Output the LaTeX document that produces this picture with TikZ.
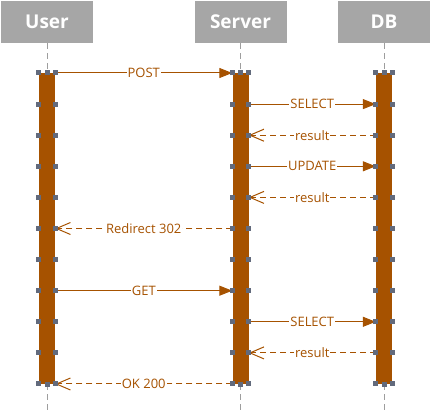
\documentclass[tikz,border=0pt]{standalone}
\usepackage{fontspec}
\setmainfont{Open Sans}
\usetikzlibrary{arrows.meta}
\definecolor{bar}{HTML}{A65200}
\definecolor{hdr}{HTML}{A6A6A6}
\definecolor{hdl}{HTML}{626A7C}
\definecolor{life}{HTML}{9E9E9E}
\tikzset{
  header/.style={fill=hdr, minimum width=92pt, minimum height=42pt, inner sep=0pt,
    text=white, font=\fontsize{19}{20}\selectfont\bfseries},
  actbar/.style={fill=bar, minimum width=16pt, minimum height=311pt, inner sep=0pt},
  lifeline/.style={draw=life, line width=1pt, dash pattern=on 6pt off 4pt},
  call/.style={color=bar, line width=1pt, -{Triangle[length=13pt,width=10pt]}},
  reply/.style={color=bar, line width=1pt, dash pattern=on 6pt off 4pt,
    -{Straight Barb[length=14pt,width=12pt]}},
  msg/.style={fill=white, text=bar, inner sep=1pt, font=\fontsize{13}{14}\selectfont},
  handle/.style={fill=hdl, minimum size=5pt, inner sep=0pt}
}
\begin{document}
\begin{tikzpicture}[x=1pt,y=-1pt]
\useasboundingbox (0,0) rectangle (431,411);
% headers
\node[header] (uh) at (47,22) {User};
\node[header] (sh) at (240.5,22) {Server};
\node[header] (dh) at (384,22) {DB};
% activation bars
\node[actbar] (ub) at (47,228.5) {};
\node[actbar] (sb) at (240.5,228.5) {};
\node[actbar] (db) at (384,228.5) {};
% lifeline ends
\coordinate (ue) at (47,411);
\coordinate (se) at (240.5,411);
\coordinate (de) at (384,411);
\draw[lifeline] (uh.south) -- (ub.north);
\draw[lifeline] (sh.south) -- (sb.north);
\draw[lifeline] (dh.south) -- (db.north);
\draw[lifeline] (ub.south) -- (ue);
\draw[lifeline] (sb.south) -- (se);
\draw[lifeline] (db.south) -- (de);
% rows
\foreach \k in {0,...,10} {\coordinate (r\k) at (0,73+31.1*\k);}
% messages
\draw[call] (ub.east |- r0) -- node[msg] (m0) {POST} (sb.west |- r0);
\draw[call] (sb.east |- r1) -- node[msg] (m1) {SELECT} (db.west |- r1);
\draw[reply] (db.west |- r2) -- node[msg] (m2) {result} (sb.east |- r2);
\draw[call] (sb.east |- r3) -- node[msg] (m3) {UPDATE} (db.west |- r3);
\draw[reply] (db.west |- r4) -- node[msg] (m4) {result} (sb.east |- r4);
\draw[reply] (sb.west |- r5) -- node[msg] (m5) {Redirect 302} (ub.east |- r5);
\draw[call] (ub.east |- r7) -- node[msg] (m7) {GET} (sb.west |- r7);
\draw[call] (sb.east |- r8) -- node[msg] (m8) {SELECT} (db.west |- r8);
\draw[reply] (db.west |- r9) -- node[msg] (m9) {result} (sb.east |- r9);
\draw[reply] (sb.west |- r10) -- node[msg] (m10) {OK 200} (ub.east |- r10);
% handles
\foreach \b in {ub,sb,db} {
  \foreach \k in {0,...,10} {
    \node[handle] (\b-w\k) at (\b.west |- r\k) {};
    \node[handle] (\b-e\k) at (\b.east |- r\k) {};
  }
  \node[handle] (\b-n) at (\b.north) {};
  \node[handle] (\b-s) at (\b.south) {};
}
\end{tikzpicture}
\end{document}
